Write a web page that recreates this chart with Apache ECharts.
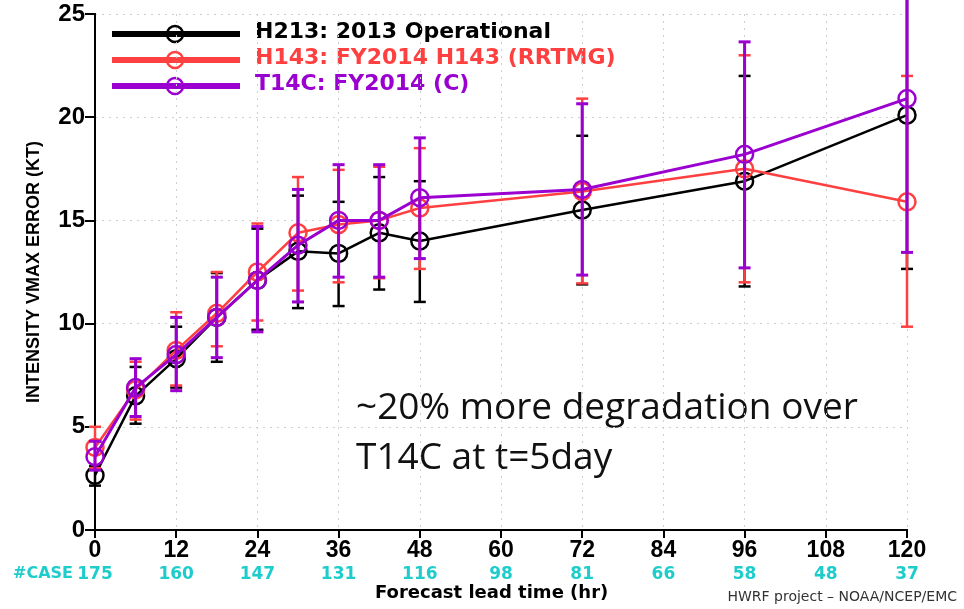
<!DOCTYPE html>
<html><head><meta charset="utf-8">
<script src="https://cdn.jsdelivr.net/npm/echarts@6/dist/echarts.min.js"></script>
<style>html,body{margin:0;padding:0;background:#fff}#c{width:964px;height:609px}</style>
</head><body><div id="c"></div>
<script>
// ---- data ----
const leadTimes = [0, 6, 12, 18, 24, 30, 36, 42, 48, 72, 96, 120];
const seriesNames = ['H213: 2013 Operational', 'H143: FY2014 H143 (RRTMG)', 'T14C: FY2014 (C)'];
const h213Mean = [2.65, 6.5, 8.3, 10.3, 12.1, 13.5, 13.4, 14.4, 14.0, 15.5, 16.9, 20.1];
const h213Low  = [2.15, 5.15, 6.9, 8.15, 9.7, 10.75, 10.85, 11.65, 11.05, 11.9, 11.8, 12.65];
const h213High = [3.1, 7.9, 9.85, 12.45, 14.6, 16.2, 15.9, 17.1, 16.9, 19.1, 22.0, 27.5];
const h143Mean = [4.0, 6.8, 8.7, 10.5, 12.5, 14.4, 14.8, 15.0, 15.6, 16.4, 17.5, 15.9];
const h143Low  = [3.0, 5.35, 7.0, 8.9, 10.15, 11.6, 12.0, 12.2, 12.65, 11.95, 12.0, 9.85];
const h143High = [5.0, 8.15, 10.55, 12.5, 14.85, 17.1, 17.45, 17.6, 18.5, 20.9, 23.0, 22.0];
const t14cMean = [3.55, 6.9, 8.5, 10.3, 12.1, 13.8, 15.0, 15.0, 16.1, 16.5, 18.2, 20.9];
const t14cLow  = [2.9, 5.5, 6.75, 8.35, 9.6, 11.05, 12.25, 12.25, 13.15, 12.35, 12.7, 13.45];
const t14cHigh = [4.3, 8.3, 10.3, 12.25, 14.7, 16.5, 17.7, 17.7, 19.0, 20.65, 23.65, 28.0];
const xTicks = [0, 12, 24, 36, 48, 60, 72, 84, 96, 108, 120];
const caseCounts = [175, 160, 147, 131, 116, 98, 81, 66, 58, 48, 37];
const yTicks = [0, 5, 10, 15, 20, 25];
const colors = ['#000000', '#ff4040', '#9a00d0'];

const means = [h213Mean, h143Mean, t14cMean];
const lows = [h213Low, h143Low, t14cLow];
const highs = [h213High, h143High, t14cHigh];
const lineWidths = [2.5, 2.5, 3];
const barWidths = [2.5, 2.5, 3];

const series = [];
for (let s = 0; s < 3; s++) {
  const col = colors[s];
  series.push({
    type: 'custom',
    name: seriesNames[s] + ' err',
    z: 2 + s * 2,
    clip: false,
    data: leadTimes.map((t, i) => [t, lows[s][i], highs[s][i]]),
    renderItem: function (params, api) {
      const x = api.coord([api.value(0), 0])[0];
      const yl = api.coord([api.value(0), api.value(1)])[1];
      const yh = api.coord([api.value(0), api.value(2)])[1];
      const w = 6;
      const st = { stroke: col, lineWidth: barWidths[s] };
      return {
        type: 'group',
        children: [
          { type: 'line', shape: { x1: x, y1: yl, x2: x, y2: yh }, style: st },
          { type: 'line', shape: { x1: x - w, y1: yl, x2: x + w, y2: yl }, style: st },
          { type: 'line', shape: { x1: x - w, y1: yh, x2: x + w, y2: yh }, style: st }
        ]
      };
    }
  });
  series.push({
    type: 'line',
    name: seriesNames[s],
    z: 3 + s * 2,
    data: leadTimes.map((t, i) => [t, means[s][i]]),
    symbol: 'circle',
    symbolSize: 17,
    showAllSymbol: true,
    lineStyle: { color: col, width: lineWidths[s] },
    itemStyle: { color: 'rgba(255,255,255,0)', borderColor: col, borderWidth: 2.5 },
    emphasis: { disabled: true },
    animation: false
  });
}

const graphics = [];
const legendY = [34, 60, 86];
for (let s = 0; s < 3; s++) {
  graphics.push({ type: 'line', shape: { x1: 112, y1: legendY[s], x2: 240, y2: legendY[s] }, style: { stroke: colors[s], lineWidth: 6 } });
  graphics.push({ type: 'circle', shape: { cx: 175, cy: legendY[s], r: 8 }, style: { fill: 'none', stroke: colors[s], lineWidth: 2.5 } });
  graphics.push({ type: 'text', left: 255, top: legendY[s] - 13, style: { text: seriesNames[s], fill: colors[s], font: 'bold 22px "DejaVu Sans"' } });
}
graphics.push({ type: 'text', left: 13, top: 566, style: { text: '#CASE', fill: '#1ecccc', font: 'bold 16px "DejaVu Sans"' } });
graphics.push({ type: 'text', left: 375, top: 584, style: { text: 'Forecast lead time (hr)', fill: '#000', font: 'bold 18px "DejaVu Sans"' } });
graphics.push({ type: 'text', right: 7, top: 590, style: { text: 'HWRF project – NOAA/NCEP/EMC', fill: '#333', font: '14px "DejaVu Sans"' } });
graphics.push({ type: 'text', left: 356, top: 383, style: { text: '~20% more degradation over\nT14C at t=5day', fill: '#111', font: '37px "Open Sans"', lineHeight: 50 } });

const boxAxis = { axisLine: { show: true, lineStyle: { color: '#000', width: 2 } }, axisTick: { show: false }, axisLabel: { show: false }, splitLine: { show: false } };

const option = {
  animation: false,
  backgroundColor: '#fff',
  grid: { left: 95, right: 57, top: 14, bottom: 79 },
  xAxis: [{
    type: 'value', min: 0, max: 120, interval: 12,
    axisLine: { lineStyle: { color: '#000', width: 2 } },
    axisTick: { length: 8, lineStyle: { color: '#000', width: 2 } },
    splitLine: { show: true, lineStyle: { color: '#cfcfcf', type: [2, 5], width: 1 } },
    axisLabel: {
      margin: 8,
      formatter: function (v) {
        const i = xTicks.indexOf(v);
        return '{t|' + v + '}\n{c|' + (i >= 0 ? caseCounts[i] : '') + '}';
      },
      rich: {
        t: { fontFamily: '"Liberation Sans Narrow", "Liberation Sans"', fontWeight: 'bold', fontSize: 23, color: '#000', lineHeight: 26 },
        c: { fontFamily: '"DejaVu Sans"', fontWeight: 'bold', fontSize: 17, color: '#1ecccc', lineHeight: 22 }
      }
    }
  }, Object.assign({ type: 'value', min: 0, max: 120, position: 'top' }, boxAxis)],
  yAxis: [{
    type: 'value', min: 0, max: 25, interval: 5,
    name: 'INTENSITY VMAX ERROR (KT)', nameLocation: 'middle', nameGap: 52, nameRotate: 90,
    nameTextStyle: { fontFamily: '"Liberation Sans Narrow", "Liberation Sans"', fontWeight: 'bold', fontSize: 18, color: '#000' },
    axisLine: { show: true, lineStyle: { color: '#000', width: 2 } },
    axisTick: { show: true, length: 10, lineStyle: { color: '#000', width: 2 } },
    splitLine: { show: true, lineStyle: { color: '#cfcfcf', type: [2, 5], width: 1 } },
    axisLabel: { margin: 10, fontFamily: '"Liberation Sans"', fontWeight: 'bold', fontSize: 24, color: '#000',
      formatter: function (v) { return yTicks.indexOf(v) >= 0 ? String(v) : ''; } }
  }, Object.assign({ type: 'value', min: 0, max: 25, position: 'right' }, boxAxis)],
  graphic: graphics,
  series: series
};
const chart = echarts.init(document.getElementById('c'), null, { renderer: 'canvas' });
chart.setOption(option);
</script>
</body></html>
